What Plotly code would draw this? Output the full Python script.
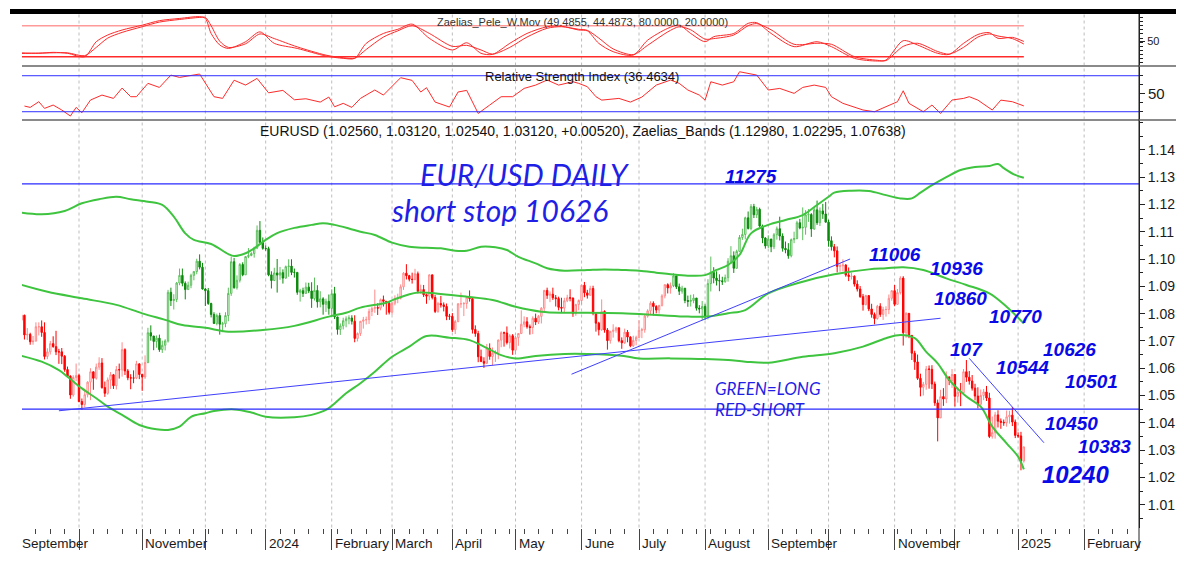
import pandas as pd
import plotly.graph_objects as go

# ---------------- calendar (one bar per trading day) ----------------
trading_days = pd.bdate_range("2023-09-01", "2025-01-03")
calendar_days = pd.bdate_range("2023-09-01", "2025-03-31")

# ---------------- EURUSD daily prices ----------------
first_open = 1.0843
closes = [
    1.0776,1.0794,1.0722,1.0724,1.0697,1.0699,1.0752,1.0752,1.0731,1.0643,1.0660,1.0690,1.0679,1.0660,1.0660,1.0644,1.0595,1.0571,1.0502,1.0566,1.0573,
    1.0478,1.0467,1.0503,1.0549,1.0587,1.0563,1.0604,1.0619,1.0529,1.0508,1.0557,1.0576,1.0536,1.0595,1.0594,1.0668,1.0590,1.0565,1.0564,1.0564,1.0616,1.0577,
    1.0568,1.0621,1.0730,1.0718,1.0698,1.0710,1.0668,1.0684,1.0700,1.0878,1.0848,1.0852,1.0912,1.0940,1.0911,1.0888,1.0904,1.0940,1.0954,1.0992,1.0970,1.0890,
    1.0884,1.0837,1.0797,1.0764,1.0793,1.0761,1.0763,1.0793,1.0874,1.0990,1.0895,1.0922,1.0980,1.0942,1.1009,1.1013,1.1020,1.1040,1.1105,1.1061,1.1039,
    1.1038,1.0942,1.0921,1.0949,1.0941,1.0950,1.0930,1.0972,1.0974,1.0951,1.0951,1.0878,1.0884,1.0874,1.0897,1.0883,1.0855,1.0885,1.0843,1.0854,1.0834,1.0845,1.0819,
    1.0873,1.0788,1.0742,1.0755,1.0774,1.0781,1.0784,1.0772,1.0709,1.0727,1.0772,1.0777,1.0778,1.0808,1.0819,1.0822,1.0820,1.0851,1.0845,1.0838,1.0805,
    1.0838,1.0855,1.0856,1.0898,1.0948,1.0939,1.0926,1.0925,1.0946,1.0882,1.0888,1.0869,1.0864,1.0942,1.0859,1.0808,1.0837,1.0832,1.0826,1.0790,1.0790,
    1.0741,1.0771,1.0836,1.0836,1.0837,1.0860,1.0855,1.0742,1.0727,1.0642,1.0625,1.0618,1.0673,1.0643,1.0655,1.0655,1.0703,1.0730,1.0729,1.0694,1.0719,1.0666,
    1.0712,1.0727,1.0761,1.0770,1.0752,1.0749,1.0783,1.0769,1.0790,1.0820,1.0885,1.0867,1.0871,1.0858,1.0855,1.0823,1.0820,1.0847,1.0858,1.0857,1.0800,1.0833,1.0848,
    1.0904,1.0876,1.0867,1.0892,1.0801,1.0765,1.0741,1.0808,1.0740,1.0701,1.0735,1.0739,1.0748,1.0701,1.0693,1.0732,1.0714,1.0682,1.0702,1.0713,
    1.0739,1.0741,1.0791,1.0810,1.0838,1.0826,1.0813,1.0830,1.0865,1.0906,1.0894,1.0902,1.0938,1.0898,1.0882,1.0893,1.0848,1.0845,1.0848,1.0857,1.0820,1.0817,1.0826,
    1.0790,1.0910,1.0951,1.0930,1.0921,1.0920,1.0917,1.0932,1.0992,1.1012,1.0966,1.1028,1.1079,1.1090,1.1151,1.1112,1.1192,1.1162,1.1182,1.1121,1.1077,1.1048,
    1.1073,1.1045,1.1089,1.1111,1.1084,1.1039,1.1034,1.1012,1.1071,1.1075,1.1133,1.1114,1.1116,1.1162,1.1163,1.1110,1.1180,1.1133,1.1176,1.1165,1.1135,
    1.1067,1.1045,1.1030,1.0973,1.0975,1.0978,1.0941,1.0936,1.0937,1.0908,1.0890,1.0862,1.0833,1.0866,1.0817,1.0797,1.0782,1.0827,1.0797,1.0815,1.0815,1.0856,1.0884,
    1.0834,1.0877,1.0930,1.0730,1.0801,1.0720,1.0655,1.0623,1.0563,1.0530,1.0541,1.0597,1.0596,1.0542,1.0473,1.0418,1.0496,1.0487,1.0568,1.0555,1.0577,
    1.0497,1.0512,1.0510,1.0587,1.0567,1.0553,1.0527,1.0498,1.0468,1.0500,1.0513,1.0491,1.0350,1.0364,1.0429,1.0406,1.0402,1.0400,1.0422,1.0428,1.0403,1.0354,
    1.0352,1.0260,1.0312,
]
highs = [
    1.0882,1.0810,1.0796,1.0747,1.0730,1.0718,1.0768,1.0768,1.0775,1.0768,1.0673,1.0700,1.0717,1.0737,1.0671,1.0674,1.0648,1.0606,1.0574,1.0574,1.0617,
    1.0580,1.0489,1.0525,1.0552,1.0600,1.0585,1.0617,1.0640,1.0637,1.0551,1.0566,1.0586,1.0579,1.0608,1.0617,1.0695,1.0673,1.0597,1.0578,1.0592,1.0627,1.0617,
    1.0580,1.0647,1.0748,1.0757,1.0716,1.0720,1.0723,1.0701,1.0706,1.0887,1.0895,1.0871,1.0916,1.0965,1.0965,1.0918,1.0917,1.0946,1.0955,1.1001,1.1017,1.0986,
    1.0894,1.0894,1.0840,1.0805,1.0800,1.0803,1.0770,1.0805,1.0895,1.1009,1.1004,1.0940,1.0985,1.0988,1.1010,1.1040,1.1025,1.1045,1.1123,1.1139,1.1079,
    1.1050,1.1045,1.0955,1.0968,1.1000,1.0971,1.0962,1.0976,1.0999,1.0999,1.0965,1.0950,1.0891,1.0895,1.0914,1.0913,1.0915,1.0932,1.0904,1.0882,1.0860,1.0855,1.0870,
    1.0889,1.0898,1.0787,1.0764,1.0785,1.0790,1.0794,1.0794,1.0794,1.0731,1.0773,1.0788,1.0789,1.0818,1.0825,1.0888,1.0838,1.0855,1.0866,1.0846,1.0846,
    1.0843,1.0867,1.0873,1.0907,1.0952,1.0981,1.0942,1.0950,1.0964,1.0954,1.0906,1.0905,1.0873,1.0943,1.0942,1.0868,1.0843,1.0865,1.0841,1.0837,1.0799,
    1.0802,1.0777,1.0838,1.0877,1.0842,1.0865,1.0885,1.0861,1.0757,1.0737,1.0668,1.0640,1.0689,1.0691,1.0676,1.0666,1.0705,1.0735,1.0734,1.0753,1.0725,1.0725,
    1.0718,1.0728,1.0812,1.0790,1.0787,1.0760,1.0790,1.0800,1.0795,1.0824,1.0887,1.0895,1.0881,1.0895,1.0868,1.0862,1.0858,1.0858,1.0869,1.0889,1.0859,1.0836,1.0852,
    1.0906,1.0916,1.0887,1.0902,1.0902,1.0780,1.0770,1.0852,1.0812,1.0747,1.0735,1.0761,1.0752,1.0747,1.0713,1.0745,1.0740,1.0717,1.0719,1.0719,
    1.0776,1.0748,1.0798,1.0816,1.0845,1.0845,1.0831,1.0832,1.0871,1.0907,1.0911,1.0914,1.0948,1.0944,1.0910,1.0902,1.0894,1.0866,1.0869,1.0871,1.0857,1.0831,1.0846,
    1.0834,1.0926,1.1009,1.0970,1.0955,1.0944,1.0935,1.0943,1.1003,1.1047,1.1028,1.1034,1.1088,1.1111,1.1155,1.1174,1.1201,1.1202,1.1191,1.1188,1.1126,1.1080,
    1.1087,1.1074,1.1095,1.1119,1.1155,1.1094,1.1064,1.1058,1.1075,1.1100,1.1140,1.1147,1.1189,1.1179,1.1183,1.1168,1.1190,1.1214,1.1189,1.1202,1.1209,
    1.1144,1.1083,1.1055,1.1046,1.0986,1.0999,1.0981,1.0969,1.0950,1.0940,1.0922,1.0901,1.0872,1.0869,1.0866,1.0836,1.0804,1.0832,1.0838,1.0825,1.0827,1.0870,1.0885,
    1.0905,1.0890,1.0937,1.0937,1.0805,1.0801,1.0722,1.0664,1.0650,1.0580,1.0550,1.0608,1.0610,1.0611,1.0551,1.0485,1.0521,1.0527,1.0588,1.0570,1.0597,
    1.0555,1.0530,1.0546,1.0597,1.0630,1.0590,1.0575,1.0543,1.0530,1.0522,1.0524,1.0535,1.0510,1.0423,1.0440,1.0446,1.0416,1.0412,1.0445,1.0444,1.0458,1.0412,
    1.0365,1.0367,1.0312,
]
lows = [
    1.0772,1.0770,1.0705,1.0703,1.0686,1.0686,1.0705,1.0720,1.0715,1.0632,1.0633,1.0650,1.0675,1.0648,1.0616,1.0615,1.0587,1.0566,1.0488,1.0496,1.0553,
    1.0475,1.0448,1.0457,1.0493,1.0483,1.0521,1.0558,1.0594,1.0525,1.0495,1.0503,1.0524,1.0524,1.0522,1.0562,1.0569,1.0575,1.0556,1.0523,1.0545,1.0560,1.0560,
    1.0517,1.0561,1.0618,1.0701,1.0666,1.0675,1.0660,1.0656,1.0665,1.0694,1.0828,1.0815,1.0842,1.0904,1.0900,1.0852,1.0888,1.0893,1.0922,1.0944,1.0962,1.0888,
    1.0828,1.0832,1.0786,1.0762,1.0757,1.0723,1.0732,1.0750,1.0772,1.0865,1.0891,1.0888,1.0914,1.0937,1.0945,1.1003,1.1010,1.1005,1.1036,1.1056,1.1034,
    1.1030,1.0937,1.0892,1.0921,1.0877,1.0924,1.0910,1.0928,1.0935,1.0941,1.0932,1.0869,1.0844,1.0861,1.0873,1.0875,1.0821,1.0848,1.0822,1.0823,1.0796,1.0806,1.0796,
    1.0795,1.0780,1.0723,1.0722,1.0742,1.0750,1.0761,1.0760,1.0695,1.0698,1.0718,1.0745,1.0760,1.0762,1.0791,1.0803,1.0795,1.0812,1.0826,1.0796,1.0797,
    1.0796,1.0830,1.0838,1.0852,1.0887,1.0925,1.0918,1.0910,1.0922,1.0874,1.0873,1.0861,1.0836,1.0849,1.0852,1.0802,1.0803,1.0822,1.0808,1.0776,1.0777,
    1.0733,1.0725,1.0768,1.0821,1.0791,1.0818,1.0844,1.0727,1.0715,1.0622,1.0622,1.0601,1.0616,1.0631,1.0610,1.0623,1.0633,1.0677,1.0679,1.0687,1.0672,1.0649,
    1.0650,1.0682,1.0725,1.0750,1.0745,1.0723,1.0725,1.0758,1.0762,1.0764,1.0809,1.0854,1.0842,1.0850,1.0826,1.0812,1.0805,1.0804,1.0842,1.0845,1.0788,1.0792,1.0812,
    1.0834,1.0860,1.0855,1.0866,1.0794,1.0734,1.0720,1.0737,1.0730,1.0668,1.0690,1.0712,1.0730,1.0695,1.0671,1.0689,1.0695,1.0677,1.0678,1.0684,
    1.0710,1.0710,1.0730,1.0785,1.0797,1.0793,1.0801,1.0800,1.0826,1.0856,1.0874,1.0873,1.0897,1.0890,1.0868,1.0873,1.0838,1.0825,1.0826,1.0838,1.0811,1.0801,1.0776,
    1.0777,1.0779,1.0881,1.0911,1.0903,1.0882,1.0905,1.0913,1.0917,1.0982,1.0949,1.0967,1.1025,1.1070,1.1072,1.1108,1.1105,1.1150,1.1150,1.1117,1.1058,1.1038,
    1.1040,1.1025,1.1036,1.1071,1.1068,1.1027,1.1021,1.1001,1.1006,1.1058,1.1072,1.1109,1.1069,1.1089,1.1136,1.1081,1.1107,1.1125,1.1121,1.1147,1.1134,
    1.1045,1.1031,1.1006,1.0951,1.0953,1.0955,1.0935,1.0919,1.0925,1.0899,1.0881,1.0858,1.0811,1.0830,1.0809,1.0785,1.0761,1.0778,1.0788,1.0777,1.0789,1.0798,1.0847,
    1.0827,1.0837,1.0870,1.0683,1.0711,1.0710,1.0630,1.0594,1.0557,1.0497,1.0500,1.0521,1.0525,1.0524,1.0462,1.0332,1.0425,1.0462,1.0472,1.0538,1.0528,
    1.0460,1.0474,1.0461,1.0503,1.0550,1.0540,1.0518,1.0482,1.0453,1.0463,1.0483,1.0480,1.0344,1.0342,1.0342,1.0383,1.0378,1.0389,1.0386,1.0397,1.0388,1.0344,
    1.0345,1.0226,1.0254,
]
opens = [first_open] + closes[:-1]

# long / short regime (GREEN=LONG, RED=SHORT)
regime_start = ["2023-09-01", "2023-11-03", "2024-02-13", "2024-07-17", "2024-10-03"]
regime_side = ["short", "long", "short", "long", "short"]

# ---------------- Zaelias bands (bar number, price) ----------------
upper_bar = [0,8,16,22,28,34,39,45,50,54,58,61,67,73,75,79,82,86,90,96,102,106,110,115,119,124,130,136,142,147,152,156,161,166,170,174,180,184,190,198,204,210,216,222,227,233,239,243,247,251,255,261,267,273,278,282,284,290,296,302,307,311,314,317,323,328,333,338,341,343,347,350]
upper_val = [1.1171,1.1164,1.1176,1.1204,1.1219,1.1228,1.1219,1.1210,1.1198,1.1155,1.1094,1.1070,1.1055,1.1018,1.1011,1.1021,1.1039,1.1070,1.1095,1.1114,1.1125,1.1131,1.1125,1.1112,1.1100,1.1088,1.1060,1.1045,1.1041,1.1039,1.1030,1.1030,1.1045,1.1043,1.1033,1.1008,1.0984,1.0966,1.0957,1.0960,1.0962,1.0960,1.0957,1.0950,1.0944,1.0939,1.0941,1.0960,1.0978,1.1015,1.1094,1.1125,1.1143,1.1161,1.1198,1.1228,1.1243,1.1250,1.1249,1.1234,1.1222,1.1222,1.1243,1.1264,1.1300,1.1326,1.1337,1.1341,1.1348,1.1333,1.1308,1.1298]
middle_bar = [0,10,22,34,43,51,57,65,73,85,96,108,114,119,128,131,139,147,156,165,173,182,190,198,210,222,233,240,247,253,261,273,284,296,302,308,315,323,330,338,344,350]
middle_val = [1.0908,1.0880,1.0856,1.0832,1.0801,1.0777,1.0758,1.0748,1.0734,1.0740,1.0755,1.0789,1.0803,1.0822,1.0840,1.0853,1.0877,1.0872,1.0862,1.0850,1.0825,1.0807,1.0803,1.0803,1.0801,1.0795,1.0789,1.0789,1.0801,1.0813,1.0874,1.0917,1.0944,1.0962,1.0966,1.0970,1.0960,1.0929,1.0905,1.0874,1.0825,1.07638]
lower_bar = [0,8,14,17,22,27,31,36,42,48,52,56,60,65,68,75,81,86,96,102,107,110,114,119,124,130,136,142,150,157,162,168,173,180,190,198,210,216,227,239,247,253,261,273,284,294,302,307,312,316,320,324,330,335,339,344,348,350]
lower_val = [1.0648,1.0624,1.0593,1.0569,1.0526,1.0490,1.0459,1.0429,1.0392,1.0376,1.0374,1.0386,1.0422,1.0435,1.0443,1.0449,1.0438,1.0422,1.0420,1.0429,1.0447,1.0471,1.0508,1.0545,1.0587,1.0642,1.0679,1.0718,1.0712,1.0703,1.0679,1.0648,1.0636,1.0645,1.0652,1.0652,1.0646,1.0636,1.0636,1.0634,1.0630,1.0624,1.0620,1.0642,1.0655,1.0679,1.0710,1.0722,1.0710,1.0660,1.0618,1.0557,1.0496,1.0459,1.0386,1.0325,1.0276,1.02295]

# ---------------- Zaelias_Pele_W.Mov ----------------
pele_bar = [0,7,12,17,23,27,31,36,43,49,56,63,65,67,70,73,79,84,89,97,107,113,117,121,127,132,137,143,151,156,161,165,171,177,184,189,195,198,202,207,214,219,226,230,234,239,242,249,254,257,262,270,278,283,291,299,302,308,313,320,324,329,334,338,341,346,350]
pele_line1 = [27.7,26.5,28.4,26.5,20.0,49.0,62.0,71.6,81.0,89.7,94.0,97.4,94.0,65.0,42.6,36.0,49.0,68.0,45.8,36.0,21.3,16.8,16.8,45.8,65.0,73.0,83.0,55.5,33.0,47.0,26.5,24.5,45.8,65.0,78.0,79.0,71.6,70.0,45.8,29.7,23.2,52.0,74.8,81.0,65.0,49.0,58.7,65.0,84.5,85.8,65.0,39.4,49.0,39.4,16.8,11.6,13.5,51.0,42.6,26.5,24.5,45.8,63.0,66.5,55.5,57.4,49.4855]
pele_line2 = [26.0,27.0,27.5,27.5,22.0,38.0,56.0,67.0,78.0,87.0,92.0,96.0,96.0,80.0,50.0,38.0,45.0,64.0,55.0,39.0,23.0,18.0,17.0,34.0,58.0,70.0,80.0,65.0,40.0,42.0,33.0,25.0,38.0,58.0,75.0,78.0,73.0,71.0,56.0,35.0,24.0,42.0,68.0,78.0,72.0,54.0,55.0,62.0,80.0,84.0,72.0,44.0,46.0,44.0,20.0,13.0,12.5,40.0,46.0,30.0,25.0,38.0,58.0,64.0,60.0,55.0,44.4873]
pele_levels = [80, 20]

# ---------------- Relative Strength Index ----------------
rsi_bar = [2,4,7,9,12,15,18,20,22,25,29,33,36,39,41,45,49,53,56,60,63,68,71,75,79,83,87,92,96,100,105,108,110,113,116,119,124,127,133,137,140,142,145,150,153,156,160,164,168,172,176,180,184,188,193,
           195,198,201,203,209,213,217,222,227,230,233,237,239,241,245,249,251,254,257,261,265,270,273,277,281,283,287,294,298,302,306,308,310,315,318,321,325,329,331,334,339,342,346,350]
rsi_val = [36.3,34.8,41.1,33.7,37.4,31.9,25.2,34.8,28.9,43.0,48.5,44.8,56.3,46.7,46.7,61.5,57.0,70.7,68.1,70.7,71.9,46.7,44.8,65.0,59.6,67.0,51.0,53.7,43.3,44.4,40.7,46.3,35.5,39.3,34.8,44.8,54.1,48.5,67.8,64.8,51.9,56.7,40.7,35.2,51.9,53.7,28.1,37.4,46.7,46.7,55.9,59.6,65.2,59.6,63.3,
           61.5,57.8,46.7,42.9,44.8,40.7,46.3,59.6,65.2,61.5,54.1,48.5,42.9,63.3,59.6,63.3,74.4,72.6,70.7,54.1,55.9,50.4,57.0,59.6,57.0,46.7,39.3,31.9,30.0,35.6,41.1,53.3,39.3,30.0,37.4,28.1,43.0,44.8,46.7,42.9,31.9,42.9,41.1,36.4634]
rsi_levels = [70, 30]

# ---------------- analyst drawings ----------------
hlines = [1.1275, 1.0450]
trend_bar0 = [14, 192.5, 331]
trend_p0 = [1.0444, 1.0578, 1.0636]
trend_bar1 = [321, 289.5, 357]
trend_p1 = [1.0783, 1.1000, 1.0327]

target_text = ["11275", "11006", "10936", "10860", "10770", "107", "10544", "10626", "10501", "10450", "10383", "10240"]
target_bar = [255, 305, 326.5, 328, 347, 330, 349.5, 366, 373.5, 366.5, 378, 368]
target_price = [1.1304, 1.1015, 1.0967, 1.0857, 1.0788, 1.0670, 1.0601, 1.0667, 1.0553, 1.0399, 1.0315, 1.0212]
target_size = [19, 19, 19, 19, 19, 19, 19, 19, 19, 19, 19, 24]

note_text = ["EUR/USD DAILY", "short stop 10626", "GREEN=LONG", "RED-SHORT"]
note_bar = [176, 167.5, 261, 258]
note_price = [1.1315, 1.1183, 1.0529, 1.0450]
note_size = [30, 30, 17, 17]

month_labels = ["September", "", "November", "", "2024", "February", "March", "April", "May", "June",
                "July", "August", "September", "", "November", "", "2025", "February", ""]

# ---------------- geometry (reference pixel frame; page body adds an 8px margin) ----------------
OFF = 8
W, H = 1176, 551
LEFT, RIGHT = 22, 1139
X_RANGE = [1.15, 390.1]
Y_MAIN = [1.00165, 1.15092]
Y_RSI = [20.8, 80.8]
Y_PELE = [2.0, 102.6]


def row(p):
    return 1 - (p - OFF) / H


def col(p):
    return (p - LEFT) / (RIGHT - LEFT)


def bar_to_paper(b):
    return (b - X_RANGE[0]) / (X_RANGE[1] - X_RANGE[0])


FONT = "Liberation Sans, Arial, sans-serif"
n = len(closes)
bars = list(range(n))
highs = [max(h, o, c) for h, o, c in zip(highs, opens, closes)]
lows = [min(l, o, c) for l, o, c in zip(lows, opens, closes)]

starts = pd.to_datetime(regime_start)
side = []
for d in trading_days[:n]:
    k = max(i for i, s in enumerate(starts) if s <= d)
    side.append(regime_side[k])

month_start_bars = [i for i in range(len(calendar_days))
                    if i == 0 or calendar_days[i].month != calendar_days[i - 1].month]
monday_bars = [i for i, d in enumerate(calendar_days) if d.weekday() == 0]

fig = go.Figure()

# candles by regime
styles = {"long": ("#5cbf5c", "#0b8a0b"), "short": ("#ff8a8a", "#ff0000")}
for name, (inc_col, dec_col) in styles.items():
    idx = [i for i in bars if side[i] == name]
    fig.add_trace(go.Candlestick(
        x=idx,
        open=[opens[i] for i in idx], high=[highs[i] for i in idx],
        low=[lows[i] for i in idx], close=[closes[i] for i in idx],
        increasing=dict(line=dict(color=inc_col, width=1), fillcolor="white"),
        decreasing=dict(line=dict(color=dec_col, width=1), fillcolor=dec_col),
        whiskerwidth=0, xaxis="x", yaxis="y", showlegend=False, hoverinfo="skip"))

# bands
for bx, by in [(upper_bar, upper_val), (middle_bar, middle_val), (lower_bar, lower_val)]:
    fig.add_trace(go.Scatter(x=bx, y=by, mode="lines", line=dict(color="#3ec43e", width=2, shape="spline", smoothing=1.0),
                             xaxis="x", yaxis="y", showlegend=False, hoverinfo="skip"))

# Pele panel
for lv, c in zip(pele_levels, ["#ff9a9a", "#ff2a2a"]):
    fig.add_trace(go.Scatter(x=[bars[0], bars[-1]], y=[lv, lv], mode="lines", line=dict(color=c, width=1.5),
                             xaxis="x", yaxis="y3", showlegend=False, hoverinfo="skip"))
for vals in [pele_line1, pele_line2]:
    fig.add_trace(go.Scatter(x=pele_bar, y=vals, mode="lines", line=dict(color="#ff2a2a", width=1, shape="spline", smoothing=0.8),
                             xaxis="x", yaxis="y3", showlegend=False, hoverinfo="skip"))

# RSI panel
fig.add_trace(go.Scatter(x=rsi_bar, y=rsi_val, mode="lines", line=dict(color="#ff2a2a", width=1),
                         xaxis="x", yaxis="y2", showlegend=False, hoverinfo="skip"))

shapes = []
for b in month_start_bars:
    if X_RANGE[0] < b < X_RANGE[1]:
        shapes.append(dict(type="line", xref="x", yref="paper", x0=b, x1=b, y0=row(527.5), y1=row(14),
                           line=dict(color="#bdbdbd", width=1, dash="dot"), layer="below"))
for lv in rsi_levels:
    shapes.append(dict(type="line", xref="paper", yref="y2", x0=0, x1=1, y0=lv, y1=lv,
                       line=dict(color="#2f2fff", width=1)))
for lv in hlines:
    shapes.append(dict(type="line", xref="paper", yref="y", x0=0, x1=1, y0=lv, y1=lv,
                       line=dict(color="#2a2aff", width=1.2)))
for b0, p0, b1, p1 in zip(trend_bar0, trend_p0, trend_bar1, trend_p1):
    shapes.append(dict(type="line", xref="x", yref="y", x0=b0, x1=b1, y0=p0, y1=p1,
                       line=dict(color="#3f3fff", width=1)))
for p in [66, 120]:
    shapes.append(dict(type="line", xref="paper", yref="paper", x0=0, x1=col(1184), y0=row(p), y1=row(p),
                       line=dict(color="#8a8a8a", width=2)))
shapes.append(dict(type="rect", xref="paper", yref="paper", x0=col(10), x1=col(1176), y0=row(14), y1=row(9),
                   fillcolor="black", line=dict(width=0)))
shapes.append(dict(type="line", xref="paper", yref="paper", x0=1, x1=1, y0=row(548), y1=row(14),
                   line=dict(color="#222", width=1)))

annotations = []
titles = [
    ("Zaelias_Pele_W.Mov (49.4855, 44.4873, 80.0000, 20.0000)", 582, 22, 11, "#333"),
    ("Relative Strength Index (36.4634)", 582, 76.5, 13, "#111"),
    ("EURUSD (1.02560, 1.03120, 1.02540, 1.03120, +0.00520), Zaelias_Bands (1.12980, 1.02295, 1.07638)", 583, 131, 14, "#111"),
]
for t, x, y, s, c in titles:
    annotations.append(dict(xref="paper", yref="paper", x=col(x), y=row(y), text=t, xanchor="center", yanchor="middle",
                            showarrow=False, font=dict(family=FONT, size=s, color=c)))
for t, b, p, s in zip(target_text, target_bar, target_price, target_size):
    annotations.append(dict(xref="x", yref="y", x=b, y=p, text="<b><i>%s</i></b>" % t, showarrow=False,
                            xanchor="center", yanchor="middle",
                            font=dict(family=FONT, size=s, color="#0a0ae8")))
for t, b, p, s in zip(note_text, note_bar, note_price, note_size):
    annotations.append(dict(xref="x", yref="y", x=b, y=p, text=t, showarrow=False,
                            xanchor="center", yanchor="middle", height=s + 3,
                            font=dict(family="Lato, Liberation Sans, sans-serif", size=s, color="#1f1fe6",
                                      weight=400, style="italic")))
for b, lab in zip(month_start_bars, month_labels):
    if lab:
        annotations.append(dict(xref="paper", yref="paper", x=bar_to_paper(b), y=row(543), text=lab,
                                xanchor="left", yanchor="middle", xshift=1, showarrow=False,
                                font=dict(family=FONT, size=13.5, color="#1a1a1a")))

axis_common = dict(side="right", anchor="x", showgrid=False, zeroline=False, showline=True,
                   linecolor="#222", linewidth=1, ticks="outside", tickcolor="#222", ticklen=5)

fig.update_layout(
    width=W, height=H, margin=dict(l=LEFT - OFF, r=W - (RIGHT - OFF), t=0, b=0),
    paper_bgcolor="white", plot_bgcolor="white", showlegend=False,
    xaxis=dict(domain=[0, 1], range=X_RANGE, anchor="y", showgrid=False, zeroline=False, showline=False,
               showticklabels=False, tickmode="array", tickvals=month_start_bars, ticks="outside",
               ticklen=21, tickcolor="#444", tickwidth=1, rangeslider=dict(visible=False),
               minor=dict(tickmode="array", tickvals=monday_bars, ticks="outside", ticklen=5,
                          tickcolor="#444", showgrid=False)),
    yaxis=dict(domain=[row(527.5), row(120)], range=Y_MAIN, tickmode="array",
               tickvals=[round(1.01 + 0.01 * i, 2) for i in range(14)],
               ticktext=["%.2f" % (1.01 + 0.01 * i) for i in range(14)],
               tickfont=dict(family=FONT, size=14, color="#1a1a1a"),
               minor=dict(tickmode="linear", tick0=1.0, dtick=0.005, ticks="outside", ticklen=3, tickcolor="#222"),
               **axis_common),
    yaxis2=dict(domain=[row(120), row(66)], range=Y_RSI, tickmode="array", tickvals=[50], ticktext=["50"],
                tickfont=dict(family=FONT, size=15, color="#1a1a1a"),
                minor=dict(tickmode="linear", tick0=0, dtick=10, ticks="outside", ticklen=3, tickcolor="#222"),
                **axis_common),
    yaxis3=dict(domain=[row(66), row(14)], range=Y_PELE, tickmode="array", tickvals=[50], ticktext=["50"],
                tickfont=dict(family=FONT, size=11, color="#1a1a1a"),
                minor=dict(tickmode="linear", tick0=0, dtick=8, ticks="outside", ticklen=3, tickcolor="#222"),
                **axis_common),
    shapes=shapes, annotations=annotations,
)

fig.write_html("out.html", config={"displayModeBar": False})
